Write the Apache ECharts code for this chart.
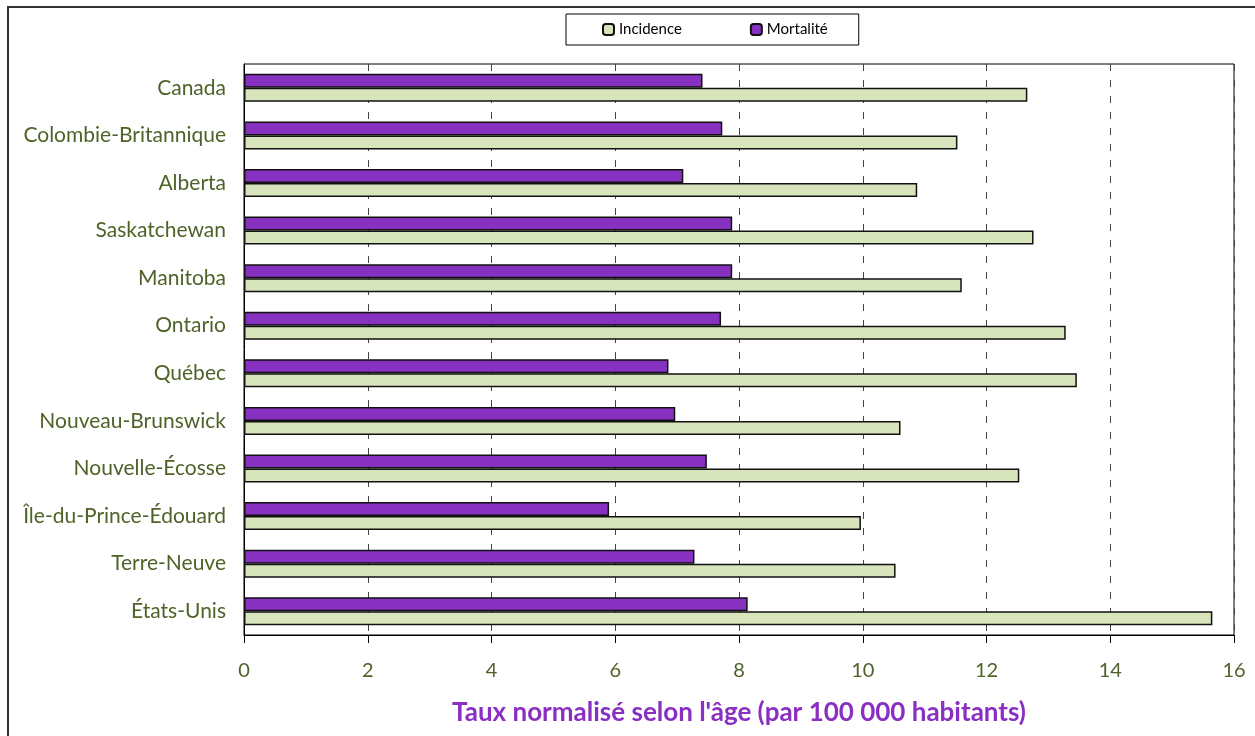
<!DOCTYPE html>
<html>
<head>
<meta charset="utf-8">
<script src="https://cdn.jsdelivr.net/npm/echarts@6/dist/echarts.min.js"></script>
<style>
  html, body { margin: 0; padding: 0; background: #fff; }
  #chart { width: 1255px; height: 736px; }
</style>
</head>
<body>
<div id="chart"></div>
<script>
const provinces = [
    'Canada', 'Colombie-Britannique', 'Alberta', 'Saskatchewan', 'Manitoba', 'Ontario',
    'Québec', 'Nouveau-Brunswick', 'Nouvelle-Écosse', 'Île-du-Prince-Édouard',
    'Terre-Neuve', 'États-Unis'
]
const incidence = [12.66, 11.53, 10.88, 12.76, 11.60, 13.28, 13.46, 10.61, 12.53, 9.97, 10.53, 15.65]
const mortalite = [7.41, 7.73, 7.10, 7.89, 7.89, 7.71, 6.86, 6.97, 7.48, 5.90, 7.28, 8.14]
const xTitle = "Taux normalisé selon l'âge (par 100 000 habitants)"

const olive = '#4f6228'
const font = 'Lato, "Open Sans", sans-serif'

const chart = echarts.init(document.getElementById('chart'))
chart.setOption({
    animation: false,
    textStyle: { fontFamily: font },
    graphic: [{
        type: 'rect',
        shape: { x: 8, y: 7, width: 1270, height: 800 },
        style: { fill: 'none', stroke: '#333', lineWidth: 2 },
        silent: true,
    }],
    legend: {
        data: ['Incidence', 'Mortalité'],
        left: 566,
        top: 14,
        padding: [8, 31, 8, 36],
        itemGap: 68,
        itemWidth: 11,
        itemHeight: 11,
        backgroundColor: '#fff',
        borderColor: '#000',
        borderWidth: 1,
        textStyle: { fontSize: 15, color: '#000', fontFamily: font },
    },
    grid: {
        left: 244,
        right: 21,
        top: 64,
        bottom: 101,
        show: true,
        borderColor: '#000',
        borderWidth: 1,
    },
    xAxis: {
        type: 'value',
        min: 0,
        max: 16,
        interval: 2,
        axisLine: { show: true, lineStyle: { color: '#000' } },
        axisTick: { show: true, length: 8, lineStyle: { color: '#000' } },
        axisLabel: { color: olive, fontSize: 20, margin: 26, fontFamily: font },
        splitLine: { show: true, lineStyle: { color: '#444', type: [7, 9] } },
        name: xTitle,
        nameLocation: 'middle',
        nameGap: 65,
        nameTextStyle: { color: '#8a2fc3', fontSize: 26, fontWeight: 'bold', fontFamily: font },
    },
    yAxis: {
        type: 'category',
        data: provinces,
        inverse: true,
        axisLine: { show: true, lineStyle: { color: '#000' } },
        axisTick: { show: false },
        axisLabel: { color: olive, fontSize: 21, margin: 18, fontFamily: font },
    },
    series: [{
        name: 'Mortalité',
        type: 'bar',
        data: mortalite,
        barWidth: 14,
        barGap: '0%',
        itemStyle: { color: '#8631bf', borderColor: '#111', borderWidth: 1.5 },
    }, {
        name: 'Incidence',
        type: 'bar',
        data: incidence,
        barWidth: 14,
        barGap: '0%',
        itemStyle: { color: '#d8e4bc', borderColor: '#111', borderWidth: 1.5 },
    }],
})
</script>
</body>
</html>
